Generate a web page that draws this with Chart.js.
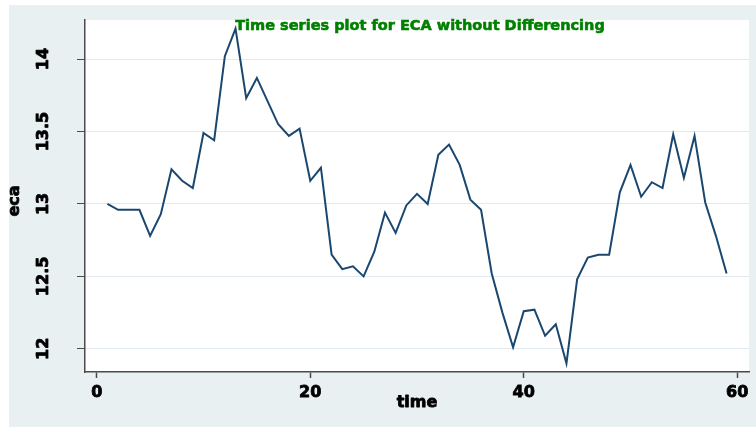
<!DOCTYPE html>
<html>
<head>
<meta charset="utf-8">
<script src="https://cdn.jsdelivr.net/npm/chart.js@4/dist/chart.umd.min.js"></script>
<style>
  html, body { margin: 0; padding: 0; background: #ffffff; }
  #wrap { width: 756px; height: 427px; }
</style>
</head>
<body>
<div id="wrap"><canvas id="c" width="756" height="427"></canvas></div>
<script>
// ECA series by time period
const time = [1,2,3,4,5,6,7,8,9,10,11,12,13,14,15,16,17,18,19,20,
              21,22,23,24,25,26,27,28,29,30,31,32,33,34,35,36,37,38,39,40,
              41,42,43,44,45,46,47,48,49,50,51,52,53,54,55,56,57,58,59];
const eca = [13.00,12.96,12.96,12.96,12.78,12.93,13.24,13.16,13.11,13.49,
             13.44,14.02,14.21,13.73,13.87,13.71,13.55,13.47,13.52,13.16,
             13.25,12.65,12.55,12.57,12.50,12.67,12.94,12.80,12.99,13.07,
             13.00,13.34,13.41,13.27,13.03,12.96,12.52,12.25,12.01,12.26,
             12.27,12.09,12.17,11.90,12.48,12.63,12.65,12.65,13.08,13.27,
             13.05,13.15,13.11,13.48,13.18,13.47,13.01,12.78,12.52];
const xTicks = [0, 20, 40, 60];
const yTicks = [12, 12.5, 13, 13.5, 14];
const yTickLabels = ['12', '12.5', '13', '13.5', '14'];
const titleText = 'Time series plot for ECA without Differencing';
const xTitle = 'time';
const yTitle = 'eca';

const PANEL = '#e9f0f2';
const INK = '#000000';
const AXIS = '#4a4a4a';
const FONT = '"DejaVu Sans", sans-serif';

// Heavy text: bold fill plus a thin outline in the same colour
function heavyText(ctx, text, x, y, color, stroke) {
  ctx.fillStyle = color;
  ctx.strokeStyle = color;
  ctx.lineWidth = stroke;
  ctx.lineJoin = 'round';
  ctx.strokeText(text, x, y);
  ctx.fillText(text, x, y);
}

const decorations = {
  id: 'decorations',
  beforeDraw(chart) {
    const { ctx, chartArea: a } = chart;
    ctx.save();
    ctx.fillStyle = '#ffffff';
    ctx.fillRect(0, 0, chart.width, chart.height);
    ctx.fillStyle = PANEL;
    ctx.fillRect(9, 5, chart.width - 9, chart.height - 5);
    ctx.fillStyle = '#ffffff';
    ctx.fillRect(a.left, a.top, a.right - a.left, a.bottom - a.top);
    ctx.restore();
  },
  afterDraw(chart) {
    const { ctx, chartArea: a, scales } = chart;
    ctx.save();
    ctx.textAlign = 'center';
    ctx.textBaseline = 'middle';
    // y tick labels, rotated
    ctx.font = 'bold 16px ' + FONT;
    yTicks.forEach((v, i) => {
      const py = scales.y.getPixelForValue(v);
      ctx.save();
      ctx.translate(44, py);
      ctx.rotate(-Math.PI / 2);
      heavyText(ctx, yTickLabels[i], 0, 0, INK, 0.8);
      ctx.restore();
    });
    // axis titles
    ctx.font = 'bold 16px ' + FONT;
    ctx.save();
    ctx.translate(15, 201);
    ctx.rotate(-Math.PI / 2);
    heavyText(ctx, yTitle, 0, 0, INK, 0.8);
    ctx.restore();
    heavyText(ctx, xTitle, (a.left + a.right) / 2, 403, INK, 0.8);
    // chart title
    ctx.font = 'bold 14.5px ' + FONT;
    heavyText(ctx, titleText, 420, 26, '#008000', 0.6);
    ctx.restore();
  }
};

new Chart(document.getElementById('c'), {
  type: 'line',
  data: {
    datasets: [{
      data: time.map((t, i) => ({ x: t, y: eca[i] })),
      borderColor: '#1a476f',
      borderWidth: 2,
      pointRadius: 0,
      tension: 0,
      fill: false
    }]
  },
  options: {
    responsive: false,
    animation: false,
    devicePixelRatio: 1,
    layout: { padding: { top: 20, right: 7, left: 0, bottom: 0 } },
    plugins: { legend: { display: false }, tooltip: { enabled: false }, title: { display: false } },
    scales: {
      x: {
        type: 'linear',
        min: -1.1,
        max: 61.1,
        afterBuildTicks(s) { s.ticks = xTicks.map(v => ({ value: v })); },
        afterFit(s) { s.height = 55; },
        border: { display: true, color: AXIS, width: 1.5 },
        grid: { drawOnChartArea: false, drawTicks: true, tickLength: 6, tickColor: AXIS, tickWidth: 1.5 },
        ticks: {
          color: INK, padding: 5, maxRotation: 0,
          textStrokeColor: INK, textStrokeWidth: 0.8,
          font: { family: FONT, size: 16, weight: 'bold' }
        }
      },
      y: {
        type: 'linear',
        min: 11.84,
        max: 14.27,
        afterBuildTicks(s) { s.ticks = yTicks.map(v => ({ value: v })); },
        afterFit(s) { s.width = 85; },
        border: { display: true, color: AXIS, width: 1.5 },
        grid: { color: '#e2eaef', lineWidth: 1, drawTicks: true, tickLength: 8, tickColor: AXIS, tickWidth: 1 },
        ticks: { display: false }
      }
    }
  },
  plugins: [decorations]
});
</script>
</body>
</html>
